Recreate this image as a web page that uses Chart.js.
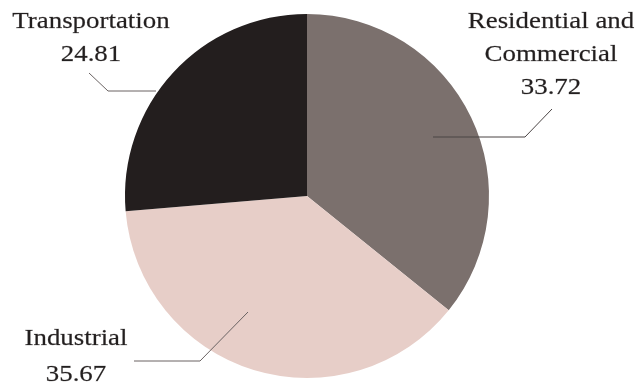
<!DOCTYPE html>
<html>
<head>
<meta charset="utf-8">
<script src="https://cdn.jsdelivr.net/npm/chart.js@4/dist/chart.umd.min.js"></script>
<style>
  html, body { margin: 0; padding: 0; background: #fff; }
  #wrap { width: 641px; height: 387px; }
</style>
</head>
<body>
<div id="wrap"><canvas id="grafico" width="641" height="387"></canvas></div>
<script>
// sectors, clockwise from 12 o'clock
var categories = ['Residential and Commercial', 'Industrial', 'Transportation'];
var values = [33.72, 35.67, 24.81];
var labelLines = [['Residential and', 'Commercial'], ['Industrial'], ['Transportation']];
var colors = ['#7b706d', '#e7cec8', '#231e1e'];

// where each label sits and how its leader line runs (canvas px)
var callouts = [
    { text: [551, 22], step: 33, line: [[433, 137], [525, 137], [552, 109]] },
    { text: [76, 339], step: 36, line: [[248, 312], [200, 361], [134, 361]] },
    { text: [91, 22], step: 33, line: [[156, 91], [108, 91], [89, 73]] }
];

var calloutPlugin = {
    id: 'callouts',
    afterDatasetsDraw: function (chart) {
        var ctx = chart.ctx;
        ctx.save();
        ctx.font = '24px "Liberation Serif", "Times New Roman", serif';
        ctx.fillStyle = '#231f1f';
        ctx.strokeStyle = 'rgba(35,31,31,0.5)';
        ctx.lineWidth = 0.4;
        ctx.textAlign = 'center';
        ctx.textBaseline = 'middle';
        callouts.forEach(function (c, i) {
            var lines = labelLines[i].concat([values[i].toFixed(2)]);
            lines.forEach(function (t, k) {
                // the type is set a little wide
                ctx.save();
                ctx.translate(c.text[0], c.text[1] + k * c.step);
                ctx.scale(1.12, 1);
                ctx.fillText(t, 0, 0);
                ctx.strokeText(t, 0, 0);
                ctx.restore();
            });
        });
        callouts.forEach(function (c, i) {
            ctx.strokeStyle = i === 0 ? '#4a4444' : '#6a6363';
            ctx.lineWidth = 1;
            ctx.beginPath();
            ctx.moveTo(c.line[0][0], c.line[0][1]);
            for (var j = 1; j < c.line.length; j++) ctx.lineTo(c.line[j][0], c.line[j][1]);
            ctx.stroke();
        });
        ctx.restore();
    }
};

var ctx = document.querySelector('#grafico').getContext('2d');
var pieChart = new Chart(ctx, {
    type: 'pie',
    data: {
        labels: categories,
        datasets: [{
            data: values,
            backgroundColor: colors,
            borderWidth: 0
        }]
    },
    options: {
        responsive: false,
        animation: false,
        layout: { padding: { left: 125, right: 152, top: 14, bottom: 9 } },
        plugins: {
            legend: { display: false },
            tooltip: { enabled: false }
        }
    },
    plugins: [calloutPlugin]
});
</script>
</body>
</html>
